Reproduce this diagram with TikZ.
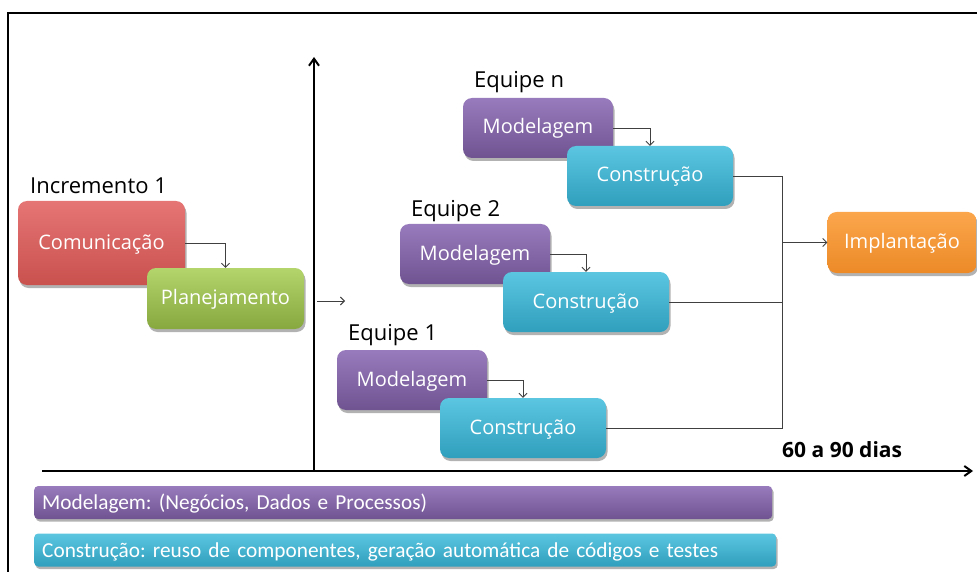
\documentclass[tikz,border=0pt]{standalone}
\usepackage{fontspec}
\setmainfont{Open Sans}
\newfontfamily\barfont{Carlito}
\usetikzlibrary{arrows.meta,shadows}
\definecolor{redT}{HTML}{E57574}
\definecolor{redB}{HTML}{C9514E}
\definecolor{greenT}{HTML}{B4D46C}
\definecolor{greenB}{HTML}{86A83E}
\definecolor{purpT}{HTML}{987BBC}
\definecolor{purpB}{HTML}{6F5391}
\definecolor{cyanT}{HTML}{5CC6E1}
\definecolor{cyanB}{HTML}{2F9FBD}
\definecolor{orT}{HTML}{FBA64C}
\definecolor{orB}{HTML}{EC8A27}
\definecolor{linkgray}{HTML}{404040}
\frenchspacing
\begin{document}
\begin{tikzpicture}[x=1pt,y=-1pt,
  box/.style={rounded corners=9pt, minimum height=60pt, text=white, inner sep=0pt,
    font=\fontsize{20}{23}\selectfont, text height=15pt, text depth=3pt,
    drop shadow={shadow xshift=1.5pt, shadow yshift=-3pt, opacity=0.3, fill=black}},
  redbox/.style={box, top color=redT, bottom color=redB, minimum width=167pt, minimum height=84pt},
  greenbox/.style={box, top color=greenT, bottom color=greenB, minimum width=157pt, minimum height=61pt},
  purpbox/.style={box, top color=purpT, bottom color=purpB, minimum width=150pt},
  cyanbox/.style={box, top color=cyanT, bottom color=cyanB, minimum width=166pt},
  orbox/.style={box, top color=orT, bottom color=orB, minimum width=149pt, minimum height=61pt},
  lbl/.style={font=\fontsize{22}{25}\selectfont, inner sep=0pt, anchor=west},
  link/.style={draw=linkgray, line width=0.9pt, -{Straight Barb[length=4pt,width=8pt]}},
  plain/.style={draw=linkgray, line width=0.9pt},
  axis/.style={line width=2.4pt, -{Straight Barb[length=7pt,width=10pt,line width=2pt]}},
  bar/.style={rounded corners=4pt, minimum height=33pt, inner xsep=8pt, inner ysep=0pt,
    text width=722pt, align=left, anchor=west, text=white,
    font=\barfont\fontsize{21.3}{24}\selectfont, text height=16pt, text depth=2pt,
    drop shadow={shadow xshift=1.5pt, shadow yshift=-2.5pt, opacity=0.3, fill=black}},
]
\useasboundingbox (0,0) rectangle (977,572);
\draw[line width=1.2pt] (977,13) -- (8,13) -- (8,572);

% axes
\coordinate (xs) at (42,471);
\coordinate (xe) at (973,471);
\coordinate (yb) at (314,471);
\coordinate (yt) at (314,57);
\draw[axis] (yb) -- (yt);
\draw[axis] (xs) -- (xe);

% increment 1
\node[lbl] (inc) at (30,186) {Incremento 1};
\node[redbox] (com) at (101.5,243) {Comunicação};
\node[greenbox] (plan) at (225.5,298.5) {Planejamento};
\draw[link] (com.east) -| (plan.north);
\coordinate (pa) at (317,301);
\coordinate (pb) at (345,301);
\draw[link] (pa) -- (pb);

% teams
\node[lbl] (eqn) at (474,82) {Equipe n};
\node[purpbox] (mn) at (538,128) {Modelagem};
\node[cyanbox] (cn) at (650,176) {Construção};
\draw[link] (mn.east) -| (cn.north);

\node[lbl] (eq2) at (411,211) {Equipe 2};
\node[purpbox] (m2) at (475,254) {Modelagem};
\node[cyanbox] (c2) at (586,302) {Construção};
\draw[link] (m2.east) -| (c2.north);

\node[lbl] (eq1) at (348,335) {Equipe 1};
\node[purpbox] (m1) at (412,380) {Modelagem};
\node[cyanbox] (c1) at (523,428) {Construção};
\draw[link] (m1.east) -| (c1.north);

% merge
\node[orbox] (imp) at (902,242.5) {Implantação};
\coordinate (jn) at (782,176);
\coordinate (j1) at (782,428);
\coordinate (jm) at (782,242.5);
\draw[plain] (cn.east) -- (jn) -- (j1) -- (c1.east);
\draw[plain] (c2.east) -- (c2.east -| jn);
\draw[link] (jm) -- (imp.west);

\node[font=\bfseries\fontsize{21}{24}\selectfont, inner sep=0pt, anchor=west] (dias) at (782,450) {60 a 90 dias};

% bottom bars
\node[bar, top color=purpT, bottom color=purpB] (bar1) at (34,502.5) {Modelagem: (Negócios, Dados e Processos)};
\node[bar, top color=cyanT, bottom color=cyanB, text width=726pt] (bar2) at (34,550) {Construção: reuso de componentes, geração automática de códigos e testes};
\end{tikzpicture}
\end{document}
